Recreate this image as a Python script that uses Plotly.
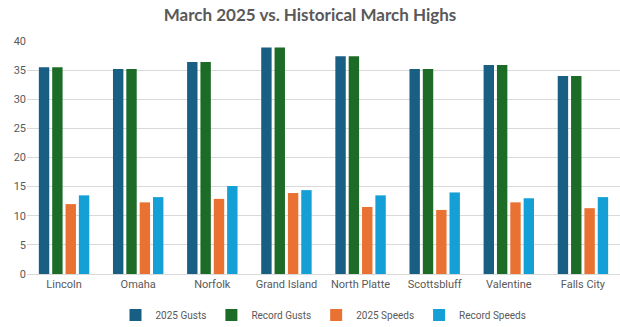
import plotly.graph_objects as go

cities = ["Lincoln", "Omaha", "Norfolk", "Grand Island", "North Platte", "Scottsbluff", "Valentine", "Falls City"]
gusts_2025 = [35.5, 35.2, 36.4, 38.9, 37.4, 35.2, 35.9, 34.0]
record_gusts = [35.5, 35.2, 36.4, 38.9, 37.4, 35.2, 35.9, 34.0]
speeds_2025 = [12.0, 12.3, 12.9, 13.9, 11.5, 11.0, 12.3, 11.3]
record_speeds = [13.5, 13.2, 15.1, 14.4, 13.5, 14.0, 13.0, 13.2]
y_ticks = [0, 5, 10, 15, 20, 25, 30, 35, 40]

series = [
    ("2025 Gusts", gusts_2025, "#195e83"),
    ("Record Gusts", record_gusts, "#1c6b27"),
    ("2025 Speeds", speeds_2025, "#e97132"),
    ("Record Speeds", record_speeds, "#159fd7"),
]

fig = go.Figure()
for name, vals, color in series:
    fig.add_trace(go.Bar(x=cities, y=vals, name=name, marker_color=color, marker_line_width=0))

fig.update_layout(
    width=620, height=327,
    margin=dict(l=27, r=0, t=41, b=53, autoexpand=False),
    paper_bgcolor="white", plot_bgcolor="white",
    barmode="group", bargap=0.28, bargroupgap=0.22,
    title=dict(text="<b>March 2025 vs. Historical March Highs</b>", x=0.5, xanchor="center",
               y=0.955, yanchor="middle",
               font=dict(family="Lato", size=17, color="#595959")),
    font=dict(family="Roboto", size=11, color="#595959"),
    legend=dict(orientation="h", x=0.5, xanchor="center", yref="container", y=0.037, yanchor="middle",
                font=dict(size=10, color="#595959"), itemwidth=30, tracegroupgap=0),
    xaxis=dict(showgrid=False, showline=True, linecolor="#d9d9d9", ticks="",
               tickfont=dict(size=11, color="#595959")),
    yaxis=dict(range=[0, 40], tickvals=y_ticks, showgrid=True, gridcolor="#d9d9d9",
               zeroline=False, ticks="", tickfont=dict(size=11, color="#595959")),
)

fig.write_html("out.html")
